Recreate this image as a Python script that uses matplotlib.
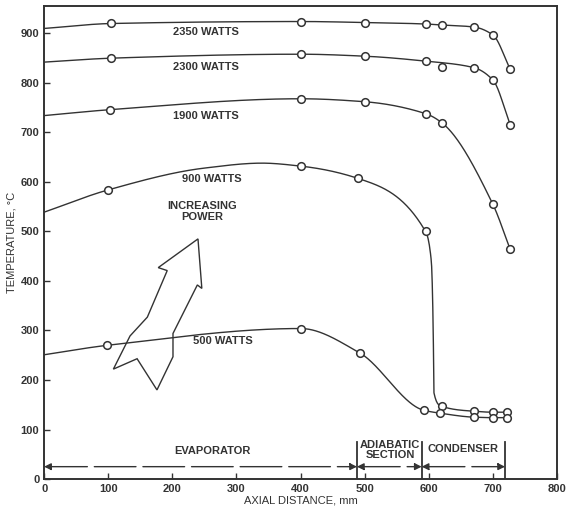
import numpy as np
import matplotlib
matplotlib.use("Agg")
import matplotlib.pyplot as plt
from matplotlib.patches import Polygon

plt.rcParams['font.family'] = ['Liberation Sans', 'DejaVu Sans']
plt.rcParams['font.weight'] = 'bold'

# measured points (thermocouple positions, mm / deg C)
x_2350 = [105, 400, 500, 595, 620, 670, 700, 727]
t_2350 = [920, 924, 922, 919, 917, 913, 897, 828]
x_2300 = [105, 400, 500, 595, 620, 670, 700, 727]
t_2300 = [850, 858, 854, 844, 833, 831, 806, 716]
x_1900 = [103, 400, 500, 595, 620, 700, 727]
t_1900 = [746, 768, 762, 738, 720, 555, 464]
x_900 = [100, 400, 490, 595, 620, 670, 700, 722]
t_900 = [584, 632, 607, 500, 147, 137, 135, 135]
x_500 = [98, 400, 492, 592, 618, 670, 700, 722]
t_500 = [270, 304, 255, 139, 133, 125, 124, 124]

# temperature where each curve meets the left axis
t_start = {'2350': 910, '2300': 842, '1900': 734, '900': 539, '500': 251}
# extra points (no marker)
shape_900_x = [250, 340, 604, 607, 608]
shape_900_t = [628, 638, 440, 300, 175]
skip_2300 = 620  # stray reading drawn off the curve

labels = ['2350 WATTS', '2300 WATTS', '1900 WATTS', '900 WATTS', '500 WATTS']
label_pos = [(252, 902), (252, 832), (252, 733), (262, 605), (279, 278)]

sections = ['EVAPORATOR', 'ADIABATIC\nSECTION', 'CONDENSER']
section_edges = [0, 488, 589, 719]

col = '#333333'


def pchip(x, y, xs):
    x = np.asarray(x, float)
    y = np.asarray(y, float)
    h = np.diff(x)
    d = np.diff(y) / h
    m = np.zeros_like(y)
    for k in range(1, len(x) - 1):
        if d[k - 1] * d[k] > 0:
            w1 = 2 * h[k] + h[k - 1]
            w2 = h[k] + 2 * h[k - 1]
            m[k] = (w1 + w2) / (w1 / d[k - 1] + w2 / d[k])
    m[0] = d[0]
    m[-1] = d[-1]
    idx = np.clip(np.searchsorted(x, xs) - 1, 0, len(h) - 1)
    s = (xs - x[idx]) / h[idx]
    h00 = 2 * s**3 - 3 * s**2 + 1
    h10 = s**3 - 2 * s**2 + s
    h01 = -2 * s**3 + 3 * s**2
    h11 = s**3 - s**2
    return (h00 * y[idx] + h10 * h[idx] * m[idx] + h01 * y[idx + 1]
            + h11 * h[idx] * m[idx + 1])


fig = plt.figure(figsize=(5.66, 5.14), dpi=100)
ax = fig.add_axes([0.078, 0.068, 0.906, 0.920])

series = [
    ('2350', x_2350, t_2350, [], []),
    ('2300', x_2300, t_2300, [], []),
    ('1900', x_1900, t_1900, [], []),
    ('900', x_900, t_900, shape_900_x, shape_900_t),
    ('500', x_500, t_500, [], []),
]

for name, xm, tm, xs_extra, ts_extra in series:
    pts = [(0, t_start[name])]
    for xv, tv in zip(xm, tm):
        if name == '2300' and xv == skip_2300:
            continue
        pts.append((xv, tv))
    pts += list(zip(xs_extra, ts_extra))
    pts.sort()
    px = [p[0] for p in pts]
    pt = [p[1] for p in pts]
    xs = np.linspace(0, px[-1], 800)
    ax.plot(xs, pchip(px, pt, xs), color=col, lw=1.0, zorder=2)
    ax.plot(xm, tm, 'o', ms=5.5, mfc='white', mec=col, mew=1.1, zorder=3)

for lab, (lx, ly) in zip(labels, label_pos):
    ax.text(lx, ly, lab, ha='center', va='center', fontsize=8, color=col)

ax.text(246, 540, 'INCREASING\nPOWER', ha='center', va='center',
        fontsize=8, color=col, linespacing=1.2)

arrow_shape = [(240, 485), (246, 385), (239, 392), (201, 294), (201, 247),
               (176, 180), (145, 243), (108, 222), (134, 289), (161, 327),
               (192, 421), (178, 427)]
ax.add_patch(Polygon(arrow_shape, closed=True, fill=False, ec=col, lw=1.0,
                     zorder=2))

# section markers along the bottom
for xe in section_edges[1:]:
    ax.plot([xe, xe], [0, 75], color=col, lw=1.3)
for i, name in enumerate(sections):
    x0, x1 = section_edges[i], section_edges[i + 1]
    ax.annotate('', xy=(x1, 25), xytext=(x0, 25),
                arrowprops=dict(arrowstyle='<|-|>', color=col, lw=1.0,
                                mutation_scale=10, shrinkA=0, shrinkB=0,
                                linestyle=(0, (30, 5))))
sec_text_x = [262, 540, 654]
sec_text_y = [57, 58, 60]
for name, tx, ty in zip(sections, sec_text_x, sec_text_y):
    ax.text(tx, ty, name, ha='center', va='center', fontsize=8,
            color=col, linespacing=1.0)

ax.set_xlim(0, 800)
ax.set_ylim(0, 955)
ax.set_xticks(range(0, 801, 100))
ax.set_yticks(range(0, 901, 100))
ax.tick_params(direction='in', length=4, width=1, labelsize=8,
               colors=col)
for sp in ax.spines.values():
    sp.set_linewidth(1.4)
    sp.set_color(col)

ax.set_xlabel('AXIAL DISTANCE, mm', fontsize=8, color=col, labelpad=1)
ax.set_ylabel('TEMPERATURE, °C', fontsize=8, color=col, labelpad=3)

fig.savefig('out.png', dpi=100)
